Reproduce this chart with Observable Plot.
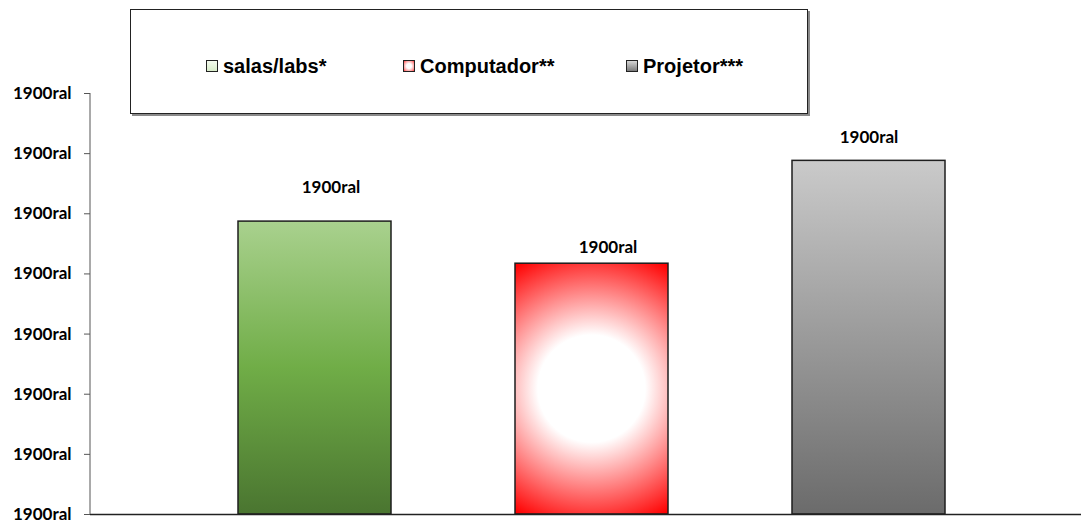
<!DOCTYPE html>
<html>
<head>
<meta charset="utf-8">
<script src="https://cdn.jsdelivr.net/npm/d3@7"></script>
<script src="https://cdn.jsdelivr.net/npm/@observablehq/plot@0.6"></script>
<style>
  html, body { margin: 0; padding: 0; background: #fff; }
  #wrap { position: relative; width: 1081px; height: 521px; overflow: hidden; }
  #legend {
    position: absolute; left: 130px; top: 9px; width: 676px; height: 103px;
    border: 1px solid #222; box-shadow: 2px 2px 0 #8a8a8a; background: #fff;
    font-family: "Liberation Sans", Arial, sans-serif; font-weight: 700; font-size: 20px; color: #000;
  }
  .item { position: absolute; top: 44px; height: 24px; display: flex; align-items: center; white-space: nowrap; }
  .sw { width: 10px; height: 10px; border: 1px solid #222; margin-right: 5px; box-sizing: content-box; }
</style>
</head>
<body>
<div id="wrap"></div>
<script>
// ---- data ----
const categories = ["salas/labs*", "Computador**", "Projetor***"];
const values = [48.7, 41.7, 58.8];
const tickValues = [0, 10, 20, 30, 40, 50, 60, 70];
const tickLabels = ["1900ral", "1900ral", "1900ral", "1900ral", "1900ral", "1900ral", "1900ral", "1900ral"];
const barLabels = ["1900ral", "1900ral", "1900ral"];

// ---- styling (not data) ----
const fills = ["url(#gGreen)", "url(#gRed)", "url(#gGray)"];
const labelDx = [16, 16, 0];
const labelDy = [-34, -16, -23];

const data = categories.map((c, i) => ({cat: c, value: values[i], label: barLabels[i], fill: fills[i], dx: labelDx[i], dy: labelDy[i]}));

const plot = Plot.plot({
  width: 1081,
  height: 521,
  marginLeft: 90,
  marginRight: 0,
  marginTop: 93,
  marginBottom: 7,
  style: {fontFamily: "Lato, 'Open Sans', sans-serif", fontSize: "17px", fontWeight: 700, color: "#000", background: "transparent"},
  x: {domain: categories, range: [238, 946], paddingInner: 0.446, paddingOuter: 0, axis: null},
  y: {domain: [0, 70], axis: null},
  color: {type: "identity"},
  marks: [
    Plot.axisY({ticks: tickValues, tickFormat: (d, i) => tickLabels[i], tickSize: 6, tickPadding: 13, stroke: "#555", fill: "#000", label: null}),
    Plot.barY(data, {x: "cat", y: "value", fill: "fill", stroke: "#1e1e1e", strokeWidth: 1.5}),
    Plot.ruleY([0], {stroke: "#222", strokeWidth: 1.5}),
    ...data.map(d => Plot.text([d], {x: "cat", y: "value", text: "label", dx: d.dx, dy: d.dy, fill: "#000"}))
  ]
});

document.getElementById("wrap").appendChild(plot);

// gradients
const svg = d3.select(plot);
const defs = svg.insert("defs", ":first-child");
const lg = defs.append("linearGradient").attr("id", "gGreen").attr("x1", 0).attr("y1", 0).attr("x2", 0).attr("y2", 1);
lg.append("stop").attr("offset", "0%").attr("stop-color", "#a9d18e");
lg.append("stop").attr("offset", "50%").attr("stop-color", "#70ad47");
lg.append("stop").attr("offset", "100%").attr("stop-color", "#4a7530");
const gg = defs.append("linearGradient").attr("id", "gGray").attr("x1", 0).attr("y1", 0).attr("x2", 0).attr("y2", 1);
gg.append("stop").attr("offset", "0%").attr("stop-color", "#cacaca");
gg.append("stop").attr("offset", "100%").attr("stop-color", "#6b6b6b");

// red radial, circular in user space
const redRect = Array.from(plot.querySelectorAll("rect")).find(r => r.getAttribute("fill") === "url(#gRed)");
const bb = redRect ? redRect.getBBox() : {x: 516, y: 264, width: 153, height: 250};
const rg = defs.append("radialGradient").attr("id", "gRed").attr("gradientUnits", "userSpaceOnUse")
  .attr("cx", bb.x + bb.width / 2).attr("cy", bb.y + bb.height / 2).attr("r", 145);
rg.append("stop").attr("offset", "0%").attr("stop-color", "#ffffff");
rg.append("stop").attr("offset", "37%").attr("stop-color", "#ffffff");
rg.append("stop").attr("offset", "100%").attr("stop-color", "#ff0000");

// y-axis line
const y = plot.scale("y");
svg.append("line").attr("x1", 90).attr("x2", 90)
  .attr("y1", y.apply(0)).attr("y2", y.apply(70))
  .attr("stroke", "#555").attr("stroke-width", 1);

// legend (HTML overlay)
const legend = document.createElement("div");
legend.id = "legend";
const swatches = [
  "linear-gradient(#f4faef, #d8ecc9)",
  "radial-gradient(circle, #ffffff 35%, #ff9a9a 75%, #ff3030 100%)",
  "linear-gradient(#d6d6d6, #7a7a7a)"
];
const lefts = [75, 272, 495];
categories.forEach((c, i) => {
  const it = document.createElement("div");
  it.className = "item";
  it.style.left = lefts[i] + "px";
  const sw = document.createElement("span");
  sw.className = "sw";
  sw.style.background = swatches[i];
  const t = document.createElement("span");
  t.textContent = c;
  it.appendChild(sw); it.appendChild(t);
  legend.appendChild(it);
});
document.getElementById("wrap").appendChild(legend);
</script>
</body>
</html>
